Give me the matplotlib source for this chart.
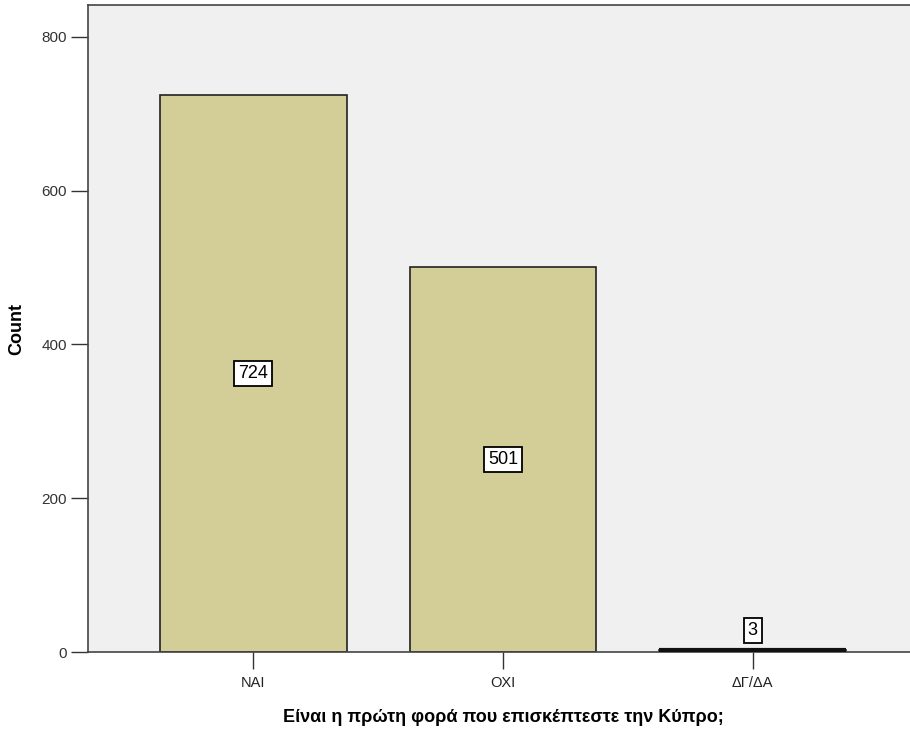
import matplotlib
matplotlib.use("Agg")
import matplotlib.pyplot as plt

categories = ["ΝΑΙ", "ΟΧΙ", "ΔΓ/ΔΑ"]
counts = [724, 501, 3]
yticks = [0, 200, 400, 600, 800]

plt.rcParams['font.family'] = ['Liberation Sans', 'DejaVu Sans']

fig = plt.figure(figsize=(9.1, 7.31), dpi=100)
ax = fig.add_axes([88/910, 79/731, 1 - 88/910 + 0.01, (652-5)/731])
ax.set_facecolor('#F0F0F0')

x = list(range(len(categories)))
ax.bar(x, counts, width=0.748, color='#D3CE97', edgecolor='#222222', linewidth=1.2, zorder=2)
# thick line for tiny bar
for xi, c in zip(x, counts):
    if c < 10:
        ax.plot([xi - 0.374, xi + 0.374], [c, c], color='#111111', linewidth=3, solid_capstyle='butt', zorder=3)

for xi, c in zip(x, counts):
    if c >= 50:
        ypos = c / 2
    else:
        ypos = c + 25
    ax.text(xi, ypos, str(c), ha='center', va='center', fontsize=13, zorder=4,
            bbox=dict(boxstyle='square,pad=0.22', facecolor='white', edgecolor='black', linewidth=1.3))

ax.set_xlim(-0.662, 2.626 + 0.04)
ax.set_ylim(0, 841.6)
ax.set_xticks(x)
ax.set_xticklabels(categories, fontsize=10.5, color='#222222')
ax.set_yticks(yticks)
ax.set_yticklabels([str(t) for t in yticks], fontsize=11, color='#333333')
ax.tick_params(axis='both', length=12, width=1.0, color='#333333', pad=3)
ax.tick_params(axis='x', length=12, pad=5)

for s in ['left', 'bottom', 'top']:
    ax.spines[s].set_color('#444444')
    ax.spines[s].set_linewidth(1.2)
ax.spines['right'].set_visible(False)

ax.set_ylabel('Count', fontsize=13, fontweight='bold', labelpad=12)
ax.set_xlabel('Είναι η πρώτη φορά που επισκέπτεστε την Κύπρο;', fontsize=13, fontweight='bold', labelpad=14)

fig.savefig('out.png', dpi=100)
